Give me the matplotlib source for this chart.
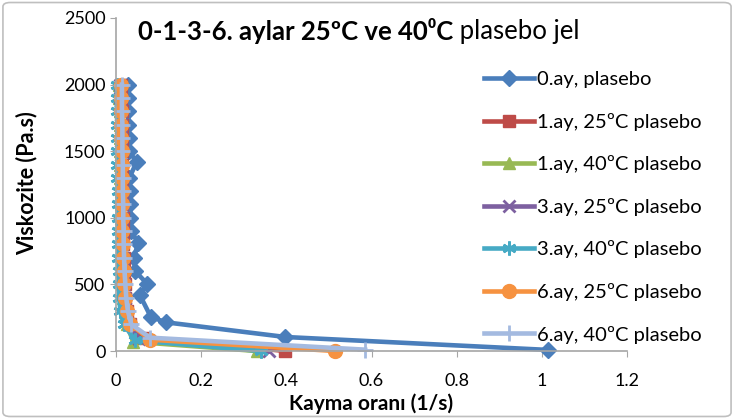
import matplotlib
matplotlib.use("Agg")
import matplotlib.pyplot as plt
from matplotlib.patches import FancyBboxPatch

plt.rcParams['font.family'] = ['Lato', 'DejaVu Sans']

title_bold = "0-1-3-6. aylar 25ºC ve 40\u2070C"
title_rest = " plasebo jel"
xlabel = "Kayma oranı (1/s)"
ylabel = "Viskozite (Pa.s)"

labels = ["0.ay, plasebo", "1.ay, 25ºC plasebo", "1.ay, 40ºC plasebo",
          "3.ay, 25ºC plasebo", "3.ay, 40ºC plasebo", "6.ay, 25ºC plasebo",
          "6.ay, 40ºC plasebo"]

# 0.ay plasebo
x0 = [0.028, 0.028, 0.029, 0.029, 0.030, 0.030, 0.049, 0.031, 0.032, 0.033,
      0.034, 0.036, 0.052, 0.042, 0.045, 0.073, 0.056, 0.082, 0.118, 0.398, 1.015]
y0 = [2000, 1900, 1800, 1700, 1600, 1500, 1420, 1300, 1200, 1100,
      1000, 900, 810, 700, 600, 505, 420, 255, 215, 105, 8]
# 1.ay 25C
x1 = [0.012, 0.012, 0.013, 0.013, 0.013, 0.014, 0.014, 0.014, 0.015, 0.015,
      0.016, 0.016, 0.017, 0.018, 0.019, 0.020, 0.022, 0.026, 0.034, 0.065, 0.398]
y1 = [2000, 1900, 1800, 1700, 1600, 1500, 1400, 1300, 1200, 1100,
      1000, 900, 800, 700, 600, 500, 400, 300, 200, 100, 0]
# 1.ay 40C
x2 = [0.008, 0.008, 0.009, 0.009, 0.009, 0.010, 0.010, 0.010, 0.011, 0.011,
      0.012, 0.012, 0.013, 0.013, 0.014, 0.015, 0.017, 0.020, 0.026, 0.040, 0.330]
y2 = [2000, 1900, 1800, 1700, 1600, 1500, 1400, 1300, 1200, 1100,
      1000, 900, 800, 700, 600, 500, 400, 300, 200, 70, 0]
# 3.ay 25C
x3 = [0.010, 0.010, 0.011, 0.011, 0.011, 0.012, 0.012, 0.012, 0.013, 0.013,
      0.014, 0.014, 0.015, 0.016, 0.017, 0.018, 0.020, 0.023, 0.030, 0.055, 0.360]
y3 = [2000, 1900, 1800, 1700, 1600, 1500, 1400, 1300, 1200, 1100,
      1000, 900, 800, 700, 600, 500, 400, 300, 200, 90, 0]
# 3.ay 40C
x4 = [0.002, 0.002, 0.002, 0.003, 0.003, 0.003, 0.003, 0.003, 0.004, 0.004,
      0.004, 0.004, 0.005, 0.005, 0.006, 0.006, 0.008, 0.010, 0.018, 0.045, 0.340]
y4 = [2000, 1900, 1800, 1700, 1600, 1500, 1400, 1300, 1200, 1100,
      1000, 900, 800, 700, 600, 500, 400, 300, 200, 80, 0]
# 6.ay 25C
x5 = [0.011, 0.011, 0.012, 0.012, 0.012, 0.013, 0.013, 0.013, 0.014, 0.014,
      0.015, 0.015, 0.016, 0.017, 0.018, 0.019, 0.021, 0.025, 0.034, 0.080, 0.515]
y5 = [2000, 1900, 1800, 1700, 1600, 1500, 1400, 1300, 1200, 1100,
      1000, 900, 800, 700, 600, 500, 400, 300, 200, 85, 0]
# 6.ay 40C
x6 = [0.014, 0.014, 0.014, 0.015, 0.015, 0.015, 0.016, 0.016, 0.016, 0.017,
      0.017, 0.018, 0.018, 0.019, 0.020, 0.022, 0.024, 0.028, 0.036, 0.080, 0.585]
y6 = [2000, 1900, 1800, 1700, 1600, 1500, 1400, 1300, 1200, 1100,
      1000, 900, 800, 700, 600, 500, 400, 300, 200, 100, 10]

xs = [x0, x1, x2, x3, x4, x5, x6]
ys = [y0, y1, y2, y3, y4, y5, y6]
colors = ["#4A7EBB", "#BE4B48", "#98B954", "#7D60A0", "#46AAC5", "#F69240", "#A4BAE0"]
markers = ["D", "s", "^", "x", (6, 2, 0), "o", "+"]
msizes = [8, 9, 9, 9, 10, 10, 12]

fig = plt.figure(figsize=(7.34, 4.19), dpi=100)
ax = fig.add_axes([116/734, 1-351/419, (627-116)/734, (351-18)/419])

for x, y, c, m, ms, lab in zip(xs, ys, colors, markers, msizes, labels):
    ax.plot(x, y, color=c, lw=3.3, marker=m, ms=ms, mew=2 if m in ("x", "+", (6, 2, 0)) else 1,
            mec=c, mfc=c, label=lab, clip_on=False)

ax.set_xlim(0, 1.2)
ax.set_ylim(0, 2500)
ax.set_xticks([0, 0.2, 0.4, 0.6, 0.8, 1.0, 1.2])
ax.set_xticklabels(["0", "0.2", "0.4", "0.6", "0.8", "1", "1.2"])
ax.set_yticks([0, 500, 1000, 1500, 2000, 2500])
for s in ["top", "right"]:
    ax.spines[s].set_visible(False)
for s in ["left", "bottom"]:
    ax.spines[s].set_color("#A6A6A6")
    ax.spines[s].set_linewidth(1.2)
ax.tick_params(axis="both", direction="out", length=4, color="#A6A6A6",
               labelsize=13, labelcolor="black")
ax.tick_params(axis="x", pad=12)
ax.tick_params(axis="y", pad=3.5)

fig.text(27/734, 1-183/419, ylabel, rotation=90, ha="center", va="center",
         fontsize=15.5, fontweight="bold")
fig.text(371/734, 1-404/419, xlabel, ha="center", va="center",
         fontsize=15, fontweight="bold")
t1 = fig.text(138/734, 1-31/419, title_bold, ha="left", va="center",
              fontsize=18.5, fontweight="bold")
fig.canvas.draw()
bb = t1.get_window_extent(renderer=fig.canvas.get_renderer())
fig.text(bb.x1/fig.bbox.width, 1-31/419, title_rest, ha="left", va="center",
         fontsize=18.5, fontweight="normal")

fig.legend(loc="upper left", bbox_to_anchor=(484/734, 1-71/419), frameon=False,
           fontsize=14.5, handlelength=2.5, handletextpad=0.15, labelspacing=1.22,
           borderaxespad=0, borderpad=0)

border = FancyBboxPatch((0.004, 0.006), 0.992, 0.988, boxstyle="round,pad=0,rounding_size=0.01",
                        transform=fig.transFigure, fill=False, ec="#BFBFBF", lw=1.2)
fig.patches.append(border)

fig.savefig("out.png", dpi=100)
